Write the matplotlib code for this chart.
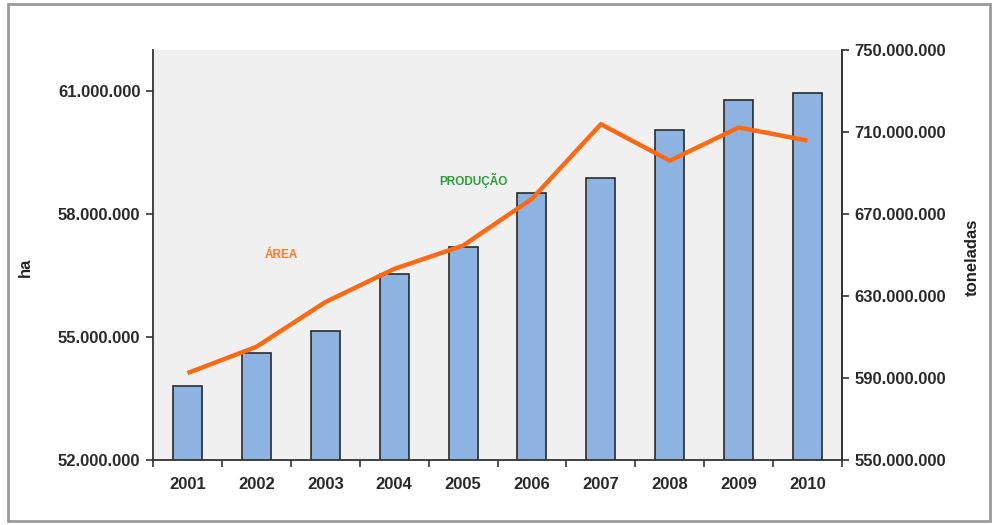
"""
Área colhida (ha) e produção (toneladas), 2001-2010.
"""

import matplotlib
matplotlib.use('Agg')
import matplotlib.pyplot as plt
from matplotlib.patches import Rectangle
from matplotlib.ticker import FuncFormatter, FixedLocator

# Dados
anos = ['2001', '2002', '2003', '2004', '2005', '2006', '2007', '2008', '2009', '2010']
producao_t = [586.1e6, 602.0e6, 612.9e6, 640.7e6, 653.7e6,
              680.1e6, 687.7e6, 711.0e6, 725.6e6, 728.9e6]
area_ha = [54.12e6, 54.76e6, 55.85e6, 56.66e6, 57.23e6,
           58.37e6, 60.19e6, 59.30e6, 60.11e6, 59.79e6]

ticks_ha = [52e6, 55e6, 58e6, 61e6]
ticks_t = [550e6, 590e6, 630e6, 670e6, 710e6, 750e6]

plt.rcParams['font.family'] = ['Liberation Sans Narrow', 'Liberation Sans', 'DejaVu Sans']


def milhar(v, pos=None):
    return f'{v:,.0f}'.replace(',', '.')


fig = plt.figure(figsize=(9.92, 5.25), dpi=100)
fig.patch.set_facecolor('white')

# Moldura externa
fig.patches.append(Rectangle((8 / 992, 4 / 525), 982 / 992, 517 / 525,
                             transform=fig.transFigure, fill=False,
                             edgecolor='#9a9a9a', linewidth=2))

ax = fig.add_axes([153 / 992, 65 / 525, 689 / 992, 410 / 525])
ax2 = ax.twinx()

# Barras de produção atrás, linha de área na frente
ax.set_zorder(2)
ax2.set_zorder(1)
ax.patch.set_visible(False)
ax2.patch.set_visible(True)
ax2.patch.set_facecolor('#f0f0f0')

x = list(range(len(anos)))
ax2.bar(x, producao_t, width=0.42, color='#8db3e2', edgecolor='#2b2b2b',
        linewidth=1.2)
ax.plot(x, area_ha, color='#ff6a13', linewidth=3.2, solid_capstyle='butt')

ax.set_xlim(-0.5, len(anos) - 0.5)
ax.set_ylim(52e6, 62e6)
ax2.set_ylim(550e6, 750e6)

ax.yaxis.set_major_locator(FixedLocator(ticks_ha))
ax.yaxis.set_major_formatter(FuncFormatter(milhar))
ax2.yaxis.set_major_locator(FixedLocator(ticks_t))
ax2.yaxis.set_major_formatter(FuncFormatter(milhar))

# Rótulos do eixo x centrados, marcas entre categorias
ax.set_xticks(x)
ax.set_xticklabels(anos)
ax.set_xticks([i + 0.5 for i in range(-1, len(anos))], minor=True)
ax.tick_params(axis='x', which='major', length=0, pad=12)
ax.tick_params(axis='x', which='minor', length=5, width=1.2, color='#333333')

for a in (ax, ax2):
    a.spines['top'].set_visible(False)
    for s in ('left', 'right', 'bottom'):
        a.spines[s].set_color('#333333')
        a.spines[s].set_linewidth(1.3)
    a.tick_params(axis='y', length=5, width=1.2, color='#333333', pad=4)
    for lbl in a.get_yticklabels() + a.get_xticklabels():
        lbl.set_fontsize(12)
        lbl.set_fontweight('bold')
        lbl.set_color('#2a2a2a')

ax2.spines['left'].set_visible(False)
ax2.spines['bottom'].set_visible(False)

ax.set_ylabel('ha', fontsize=12, fontweight='bold', color='#222222')
ax.yaxis.set_label_coords(-0.174, 0.47)
ax2.set_ylabel('toneladas', fontsize=12, fontweight='bold', color='#222222',
               rotation=90)
ax2.yaxis.set_label_coords(1.178, 0.495)

# Legendas das séries dentro da área de plotagem
ax.text(1.37, 57.0e6, 'ÁREA', color='#ff7a2a', fontsize=8.5, fontweight='bold',
        ha='center', va='center')
ax.text(4.15, 58.82e6, 'PRODUÇÃO', color='#2e9e3a', fontsize=8.5, fontweight='bold',
        ha='center', va='center')

fig.savefig('out.png', dpi=100)
plt.close(fig)
